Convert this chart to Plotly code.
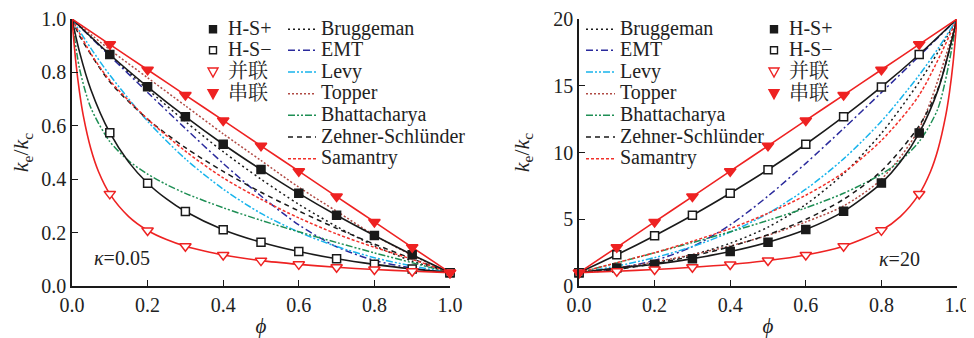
import plotly.graph_objects as go

SERIF = "Liberation Serif"
TXT = "#222222"
BLACK = "#1a1a1a"
RED = "#ee2222"
DARKRED = "#b04a44"
SAMRED = "#f2302a"
NAVY = "#2a2a9c"
CYAN = "#18b4ec"
GREEN = "#1f8f55"

# ---------------- kappa = 0.05 (left panel) ----------------
phi_mk_L = [0.1, 0.2, 0.3, 0.4, 0.5, 0.6, 0.7, 0.8, 0.9, 1.0]
hsp_mk_L = [0.867, 0.746, 0.634, 0.531, 0.436, 0.347, 0.265, 0.189, 0.117, 0.05]
hsm_mk_L = [0.574, 0.385, 0.279, 0.211, 0.164, 0.129, 0.102, 0.081, 0.064, 0.05]
par_mk_L = [0.345, 0.208, 0.149, 0.116, 0.095, 0.081, 0.070, 0.062, 0.055, 0.05]
ser_mk_L = [0.905, 0.81, 0.715, 0.62, 0.525, 0.43, 0.335, 0.24, 0.145, 0.05]

phi_L = [0.0, 0.1, 0.2, 0.3, 0.4, 0.5, 0.6, 0.7, 0.8, 0.9, 1.0]
hsp_L = [1.0, 0.867, 0.746, 0.634, 0.531, 0.436, 0.347, 0.265, 0.189, 0.117, 0.05]
ser_L = [1.0, 0.905, 0.81, 0.715, 0.62, 0.525, 0.43, 0.335, 0.24, 0.145, 0.05]
brug_L = [1.0, 0.865, 0.737, 0.616, 0.503, 0.400, 0.306, 0.223, 0.151, 0.093, 0.05]
emt_L = [1.0, 0.862, 0.725, 0.590, 0.459, 0.337, 0.229, 0.147, 0.096, 0.067, 0.05]
topper_L = [1.0, 0.885, 0.78, 0.675, 0.57, 0.47, 0.37, 0.28, 0.19, 0.115, 0.05]

phi_hsm_L = [0.0, 0.02, 0.05, 0.1, 0.15, 0.2, 0.25, 0.3, 0.4, 0.5, 0.6, 0.7, 0.8, 0.9, 1.0]
hsm_L = [1.0, 0.876, 0.735, 0.574, 0.464, 0.385, 0.326, 0.279, 0.211, 0.164, 0.129, 0.102, 0.081, 0.064, 0.05]

phi_par_L = [0.0, 0.01, 0.02, 0.03, 0.05, 0.07, 0.1, 0.15, 0.2, 0.25, 0.3, 0.35, 0.4, 0.5, 0.6, 0.7, 0.8, 0.9, 1.0]
par_L = [1.0, 0.840, 0.725, 0.637, 0.513, 0.429, 0.345, 0.260, 0.208, 0.174, 0.149, 0.131, 0.116, 0.095, 0.081, 0.070, 0.062, 0.055, 0.05]

phi_levy_L = [0.0, 0.05, 0.1, 0.2, 0.3, 0.4, 0.5, 0.6, 0.7, 0.8, 0.9, 1.0]
levy_L = [1.0, 0.890, 0.790, 0.617, 0.476, 0.363, 0.272, 0.202, 0.148, 0.106, 0.075, 0.05]

phi_bhat_L = [0.0, 0.02, 0.05, 0.1, 0.15, 0.2, 0.25, 0.3, 0.4, 0.5, 0.6, 0.7, 0.8, 0.9, 1.0]
bhat_L = [1.0, 0.814, 0.667, 0.541, 0.469, 0.419, 0.380, 0.347, 0.293, 0.246, 0.203, 0.163, 0.124, 0.087, 0.05]

phi_zs_L = [0.0, 0.02, 0.1, 0.2, 0.3, 0.4, 0.5, 0.6, 0.7, 0.8, 0.9, 1.0]
zs_L = [1.0, 0.937, 0.765, 0.625, 0.518, 0.429, 0.351, 0.281, 0.216, 0.157, 0.102, 0.05]

phi_sam_L = [0.0, 0.05, 0.1, 0.2, 0.3, 0.4, 0.5, 0.6, 0.7, 0.8, 0.9, 1.0]
sam_L = [1.0, 0.87, 0.77, 0.625, 0.505, 0.405, 0.325, 0.255, 0.195, 0.145, 0.10, 0.05]

# ---------------- kappa = 20 (right panel) ----------------
phi_mk_R = [0.0, 0.1, 0.2, 0.3, 0.4, 0.5, 0.6, 0.7, 0.8, 0.9]
hsp_mk_R = [1.0, 1.35, 1.63, 2.05, 2.58, 3.28, 4.23, 5.59, 7.71, 11.47]
hsm_mk_R = [1.0, 2.34, 3.77, 5.30, 6.95, 8.71, 10.62, 12.68, 14.91, 17.34]
par_mk_R = [1.0, 1.105, 1.235, 1.399, 1.613, 1.905, 2.326, 2.985, 4.167, 6.897]
ser_mk_R = [1.0, 2.9, 4.8, 6.7, 8.6, 10.5, 12.4, 14.3, 16.2, 18.1]

phi_R = [0.0, 0.1, 0.2, 0.3, 0.4, 0.5, 0.6, 0.7, 0.8, 0.9, 1.0]
hsm_R = [1.0, 2.34, 3.77, 5.30, 6.95, 8.71, 10.62, 12.68, 14.91, 17.34, 20.0]
ser_R = [1.0, 2.9, 4.8, 6.7, 8.6, 10.5, 12.4, 14.3, 16.2, 18.1, 20.0]
emt_R = [1.0, 1.336, 1.917, 2.945, 4.582, 6.735, 9.188, 11.80, 14.49, 17.23, 20.0]
topper_R = [1.0, 1.35, 1.8, 2.35, 3.0, 3.8, 4.8, 6.0, 8.0, 11.8, 20.0]
sam_R = [1.0, 1.75, 2.5, 3.35, 4.3, 5.45, 6.8, 8.5, 10.9, 14.3, 20.0]

phi_hsp_R = [0.0, 0.1, 0.2, 0.3, 0.4, 0.5, 0.6, 0.7, 0.8, 0.85, 0.9, 0.95, 1.0]
hsp_R = [1.0, 1.35, 1.63, 2.05, 2.58, 3.28, 4.23, 5.59, 7.71, 9.28, 11.47, 14.71, 20.0]

phi_par_R = [0.0, 0.1, 0.2, 0.3, 0.4, 0.5, 0.6, 0.7, 0.8, 0.85, 0.9, 0.93, 0.95, 0.97, 0.98, 0.99, 1.0]
par_R = [1.0, 1.105, 1.235, 1.399, 1.613, 1.905, 2.326, 2.985, 4.167, 5.195, 6.897, 8.58, 10.26, 12.74, 14.49, 16.81, 20.0]

phi_brug_R = [0.0, 0.1, 0.2, 0.3, 0.4, 0.5, 0.6, 0.7, 0.8, 0.9, 0.95, 1.0]
brug_R = [1.0, 1.307, 1.735, 2.34, 3.2, 4.41, 6.11, 8.41, 11.44, 15.28, 17.53, 20.0]

phi_levy_R = [0.0, 0.1, 0.2, 0.3, 0.4, 0.5, 0.6, 0.7, 0.8, 0.9, 0.95, 1.0]
levy_R = [1.0, 1.49, 2.125, 2.953, 4.035, 5.444, 7.249, 9.526, 12.34, 15.80, 17.8, 20.0]

phi_bhat_R = [0.0, 0.1, 0.2, 0.3, 0.4, 0.5, 0.6, 0.7, 0.8, 0.85, 0.9, 0.95, 1.0]
bhat_R = [1.0, 1.733, 2.483, 3.254, 4.058, 4.913, 5.852, 6.945, 8.378, 9.38, 10.82, 13.33, 20.0]

phi_zs_R = [0.0, 0.02, 0.1, 0.2, 0.3, 0.4, 0.5, 0.6, 0.7, 0.8, 0.9, 0.95, 1.0]
zs_R = [1.0, 1.025, 1.248, 1.673, 2.236, 2.949, 3.845, 4.987, 6.494, 8.613, 12.01, 14.80, 20.0]

# ---------------- styles ----------------
W = 1.5
SW = 1.6
STY = {
    "Bruggeman": dict(color=BLACK, width=W, dash="2px,3px"),
    "EMT": dict(color=NAVY, width=W, dash="7px,3px,2px,3px"),
    "Levy": dict(color=CYAN, width=W, dash="7px,2px,2px,2px,2px,2px"),
    "Topper": dict(color=DARKRED, width=W, dash="2px,2px"),
    "Bhattacharya": dict(color=GREEN, width=W, dash="7px,2px,2px,2px,2px,2px"),
    "Zehner-Schlünder": dict(color=BLACK, width=W, dash="5px,4px"),
    "Samantry": dict(color=SAMRED, width=W, dash="3px,2px"),
}

fig = go.Figure()


def add_line(x, y, xa, ya, line):
    fig.add_trace(go.Scatter(x=x, y=y, xaxis=xa, yaxis=ya, mode="lines",
                             line=dict(shape="spline", smoothing=0.8, **line),
                             showlegend=False, hoverinfo="skip"))


def add_markers(x, y, xa, ya, symbol, color, fill, size):
    fig.add_trace(go.Scatter(x=x, y=y, xaxis=xa, yaxis=ya, mode="markers",
                             marker=dict(symbol=symbol, size=size, color=fill,
                                         line=dict(color=color, width=1.5)),
                             cliponaxis=False, showlegend=False, hoverinfo="skip"))


# left panel lines
add_line(phi_L, brug_L, "x", "y", STY["Bruggeman"])
add_line(phi_L, emt_L, "x", "y", STY["EMT"])
add_line(phi_levy_L, levy_L, "x", "y", STY["Levy"])
add_line(phi_L, topper_L, "x", "y", STY["Topper"])
add_line(phi_bhat_L, bhat_L, "x", "y", STY["Bhattacharya"])
add_line(phi_zs_L, zs_L, "x", "y", STY["Zehner-Schlünder"])
add_line(phi_sam_L, sam_L, "x", "y", STY["Samantry"])
add_line(phi_L, hsp_L, "x", "y", dict(color=BLACK, width=SW))
add_line(phi_hsm_L, hsm_L, "x", "y", dict(color=BLACK, width=SW))
add_line(phi_par_L, par_L, "x", "y", dict(color=RED, width=SW))
add_line(phi_L, ser_L, "x", "y", dict(color=RED, width=SW))
add_markers(phi_mk_L, hsp_mk_L, "x", "y", "square", BLACK, BLACK, 8)
add_markers(phi_mk_L, hsm_mk_L, "x", "y", "square", BLACK, "white", 8)
add_markers(phi_mk_L, par_mk_L, "x", "y", "triangle-down", RED, "white", 10)
add_markers(phi_mk_L, ser_mk_L, "x", "y", "triangle-down", RED, RED, 10)

# right panel lines
add_line(phi_brug_R, brug_R, "x2", "y2", STY["Bruggeman"])
add_line(phi_R, emt_R, "x2", "y2", STY["EMT"])
add_line(phi_levy_R, levy_R, "x2", "y2", STY["Levy"])
add_line(phi_R, topper_R, "x2", "y2", STY["Topper"])
add_line(phi_bhat_R, bhat_R, "x2", "y2", STY["Bhattacharya"])
add_line(phi_zs_R, zs_R, "x2", "y2", STY["Zehner-Schlünder"])
add_line(phi_R, sam_R, "x2", "y2", STY["Samantry"])
add_line(phi_hsp_R, hsp_R, "x2", "y2", dict(color=BLACK, width=SW))
add_line(phi_R, hsm_R, "x2", "y2", dict(color=BLACK, width=SW))
add_line(phi_par_R, par_R, "x2", "y2", dict(color=RED, width=SW))
add_line(phi_R, ser_R, "x2", "y2", dict(color=RED, width=SW))
add_markers(phi_mk_R, hsp_mk_R, "x2", "y2", "square", BLACK, BLACK, 8)
add_markers(phi_mk_R, hsm_mk_R, "x2", "y2", "square", BLACK, "white", 8)
add_markers(phi_mk_R, par_mk_R, "x2", "y2", "triangle-down", RED, "white", 10)
add_markers(phi_mk_R, ser_mk_R, "x2", "y2", "triangle-down", RED, RED, 10)

# ---------------- axes ----------------
# the page body has an 8 px margin, so the figure is drawn 8 px in from the window corner
OFF = 8
FIG_W, FIG_H = 974 - OFF, 338 - OFF
tickfont = dict(family=SERIF, size=20, color=TXT)
common = dict(showgrid=False, zeroline=False, showline=True, linecolor=BLACK, linewidth=1.5,
              ticks="inside", ticklen=6, tickwidth=1.4, tickcolor=BLACK, tickfont=tickfont,
              automargin=False)
ytitle = dict(text="<i>k</i><sub>e</sub>/<i>k</i><sub>c</sub>", font=dict(family=SERIF, size=22, color=TXT))
xtitle = dict(text="<i>ϕ</i>", font=dict(family=SERIF, size=21, color=TXT), standoff=12)

# plot-area edges in window pixels
PL, PR, PT, PB = 72, 957, 19, 286
SPAN = PR - PL
fig.update_layout(
    width=FIG_W, height=FIG_H,
    margin=dict(l=PL - OFF, r=FIG_W - (PR - OFF), t=PT - OFF, b=FIG_H - (PB - OFF), autoexpand=False),
    paper_bgcolor="white", plot_bgcolor="white", showlegend=False,
    xaxis=dict(domain=[0, (450 - PL) / SPAN], range=[0, 1], dtick=0.2, tickformat=".1f",
               anchor="y", title=xtitle, **common),
    yaxis=dict(domain=[0, 1], range=[0, 1], dtick=0.2, tickformat=".1f", anchor="x",
               title=dict(standoff=18, **ytitle), **common),
    xaxis2=dict(domain=[(579 - PL) / SPAN, 1], range=[0, 1], dtick=0.2, tickformat=".1f",
                anchor="y2", title=xtitle, **common),
    yaxis2=dict(domain=[0, 1], range=[0, 20], dtick=5, anchor="x2",
                title=dict(standoff=18, **ytitle), **common),
)


# ---------------- legends (drawn in paper space) ----------------
def PX(px):
    return (px - PL) / SPAN


def PY(py):
    return (PB - py) / (PB - PT)


ROWS = [28.3, 49.3, 71.0, 92.7, 114.3, 136.0, 157.7]
line_names = ["Bruggeman", "EMT", "Levy", "Topper", "Bhattacharya", "Zehner-Schlünder", "Samantry"]
mk_items = [("H-S+", "sq_fill"), ("H-S−", "sq_open"), ("并联", "tri_open"), ("串联", "tri_fill")]

shapes = []
annos = []


def legend_text(x, y, text):
    annos.append(dict(x=PX(x), y=PY(y), xref="paper", yref="paper", text=text, showarrow=False,
                      xanchor="left", yanchor="middle",
                      font=dict(family=SERIF + ", Noto Serif CJK SC, Noto Sans CJK SC", size=20, color=TXT)))


def line_column(x0, x1, xt):
    for name, y in zip(line_names, ROWS):
        s = STY[name]
        shapes.append(dict(type="line", xref="paper", yref="paper", x0=PX(x0), x1=PX(x1),
                           y0=PY(y + 1), y1=PY(y + 1),
                           line=dict(color=s["color"], width=s["width"], dash=s["dash"])))
        legend_text(xt, y, name)


def marker_column(xc, xt):
    for (name, kind), y in zip(mk_items, ROWS):
        yc = y + 1
        if kind.startswith("sq"):
            h = 3.5
            shapes.append(dict(type="rect", xref="paper", yref="paper",
                               x0=PX(xc - h), x1=PX(xc + h), y0=PY(yc + h), y1=PY(yc - h),
                               line=dict(color=BLACK, width=1.4),
                               fillcolor=BLACK if kind == "sq_fill" else "white"))
        else:
            path = "M {},{} L {},{} L {},{} Z".format(PX(xc - 5), PY(yc - 4), PX(xc + 5), PY(yc - 4),
                                                    PX(xc), PY(yc + 5))
            shapes.append(dict(type="path", xref="paper", yref="paper", path=path,
                               line=dict(color=RED, width=1.4),
                               fillcolor=RED if kind == "tri_fill" else "white"))
        legend_text(xt, y, name)


marker_column(213, 226)
line_column(288, 316, 319)
line_column(586, 615, 618)
marker_column(774, 787)

annos.append(dict(x=PX(92), y=PY(258), xref="paper", yref="paper", text="<i>κ</i>=0.05",
                  showarrow=False, xanchor="left", yanchor="middle",
                  font=dict(family=SERIF, size=20, color=TXT)))
annos.append(dict(x=PX(922), y=PY(259), xref="paper", yref="paper", text="<i>κ</i>=20",
                  showarrow=False, xanchor="right", yanchor="middle",
                  font=dict(family=SERIF, size=20, color=TXT)))

fig.update_layout(shapes=shapes, annotations=annos)
fig.write_html("out.html")
